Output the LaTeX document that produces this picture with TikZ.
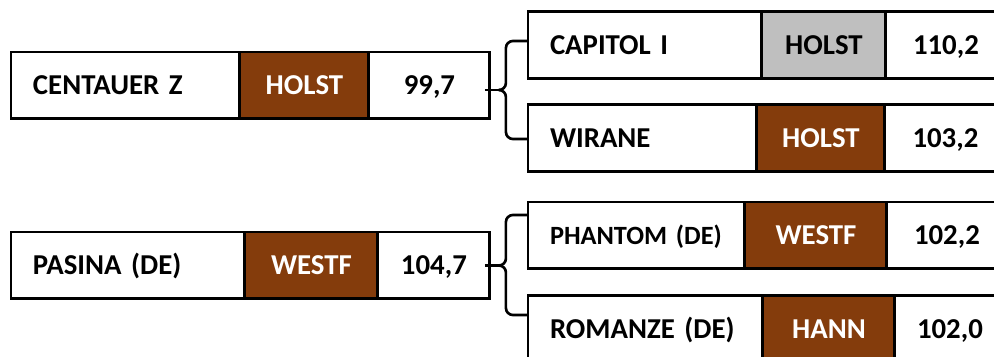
\documentclass[tikz,border=0pt]{standalone}
\usepackage{fontspec}
\setmainfont{Carlito}[WordSpace=0.6]
\usepackage{xcolor}
\definecolor{cBrown}{HTML}{843C0C}
\definecolor{cGray}{HTML}{BFBFBF}
\usetikzlibrary{positioning,calc}
\tikzset{
  cell/.style={draw=black,line width=1.7pt,outer sep=0pt,minimum height=1.34cm,
    inner ysep=0pt,text height=10.4pt,text depth=0pt,
    font=\fontsize{16.4}{19}\selectfont\bfseries},
  cell-name/.style={cell,text width=#1,inner xsep=0.44cm,align=left},
  cell-club/.style={cell,minimum width=#1,fill=cBrown,text=white},
  cell-club-grey/.style={cell,minimum width=#1,fill=cGray},
  cell-val/.style={cell,minimum width=#1},
  link/.style={line width=1.5pt,rounded corners=0.14cm},
}

\begin{document}
\begin{tikzpicture}[x=0.02cm,y=-0.02cm]
  \useasboundingbox (0,0) rectangle (994,357);
  \clip (0,0) rectangle (994,357);
  % left column
  \node[cell-name=3.70cm,anchor=west] (cen) at (11,85.5) {CENTAUER Z};
  \node[cell-club=2.58cm,right=0pt of cen]      (cen-club) {HOLST};
  \node[cell-val=2.42cm,right=0pt of cen-club]  (cen-val)  {99,7};
  \node[cell-name=3.80cm,anchor=west] (pas) at (11,265.5) {PASINA (DE)};
  \node[cell-club=2.66cm,right=0pt of pas]      (pas-club) {WESTF};
  \node[cell-val=2.24cm,right=0pt of pas-club]  (pas-val)  {104,7};
  % right column
  \node[cell-name=3.80cm,anchor=west] (cap) at (528,45) {CAPITOL I};
  \node[cell-club-grey=2.48cm,right=0pt of cap] (cap-club) {HOLST};
  \node[cell-val=2.40cm,right=0pt of cap-club]  (cap-val)  {110,2};
  \node[cell-name=3.70cm,anchor=west] (wir) at (528,138) {WIRANE};
  \node[cell-club=2.56cm,right=0pt of wir]      (wir-club) {HOLST};
  \node[cell-val=2.42cm,right=0pt of wir-club]  (wir-val)  {103,2};
  \node[cell-name=3.46cm,anchor=west,font=\fontsize{15}{18}\selectfont\bfseries] (pha) at (528,235.5) {PHANTOM (DE)};
  \node[cell-club=2.84cm,right=0pt of pha]      (pha-club) {WESTF};
  \node[cell-val=2.40cm,right=0pt of pha-club]  (pha-val)  {102,2};
  \node[cell-name=3.82cm,anchor=west] (rom) at (528,329) {ROMANZE (DE)};
  \node[cell-club=2.64cm,right=0pt of rom]      (rom-club) {HANN};
  \node[cell-val=2.20cm,right=0pt of rom-club]  (rom-val)  {102,0};
  % braces
  \coordinate (tip-a) at ($(cen-val.east)+(9,4.5)$);
  \draw[link] ($(cen-val.east)+(-5,4.5)$) -- (tip-a);
  \draw[link] ($(cap.west)+(0,-4)$) -| ($(tip-a)+(7,0)$) -- (tip-a);
  \draw[link] ($(wir.west)+(0,1)$) -| ($(tip-a)+(7,0)$) -- (tip-a);
  \coordinate (tip-b) at ($(pas-val.east)+(9,0)$);
  \draw[link] ($(pas-val.east)+(-5,0)$) -- (tip-b);
  \draw[link] ($(pha.west)+(0,-20.5)$) -| ($(tip-b)+(7,0)$) -- (tip-b);
  \draw[link] ($(rom.west)+(0,-14)$) -| ($(tip-b)+(7,0)$) -- (tip-b);
\end{tikzpicture}
\end{document}
